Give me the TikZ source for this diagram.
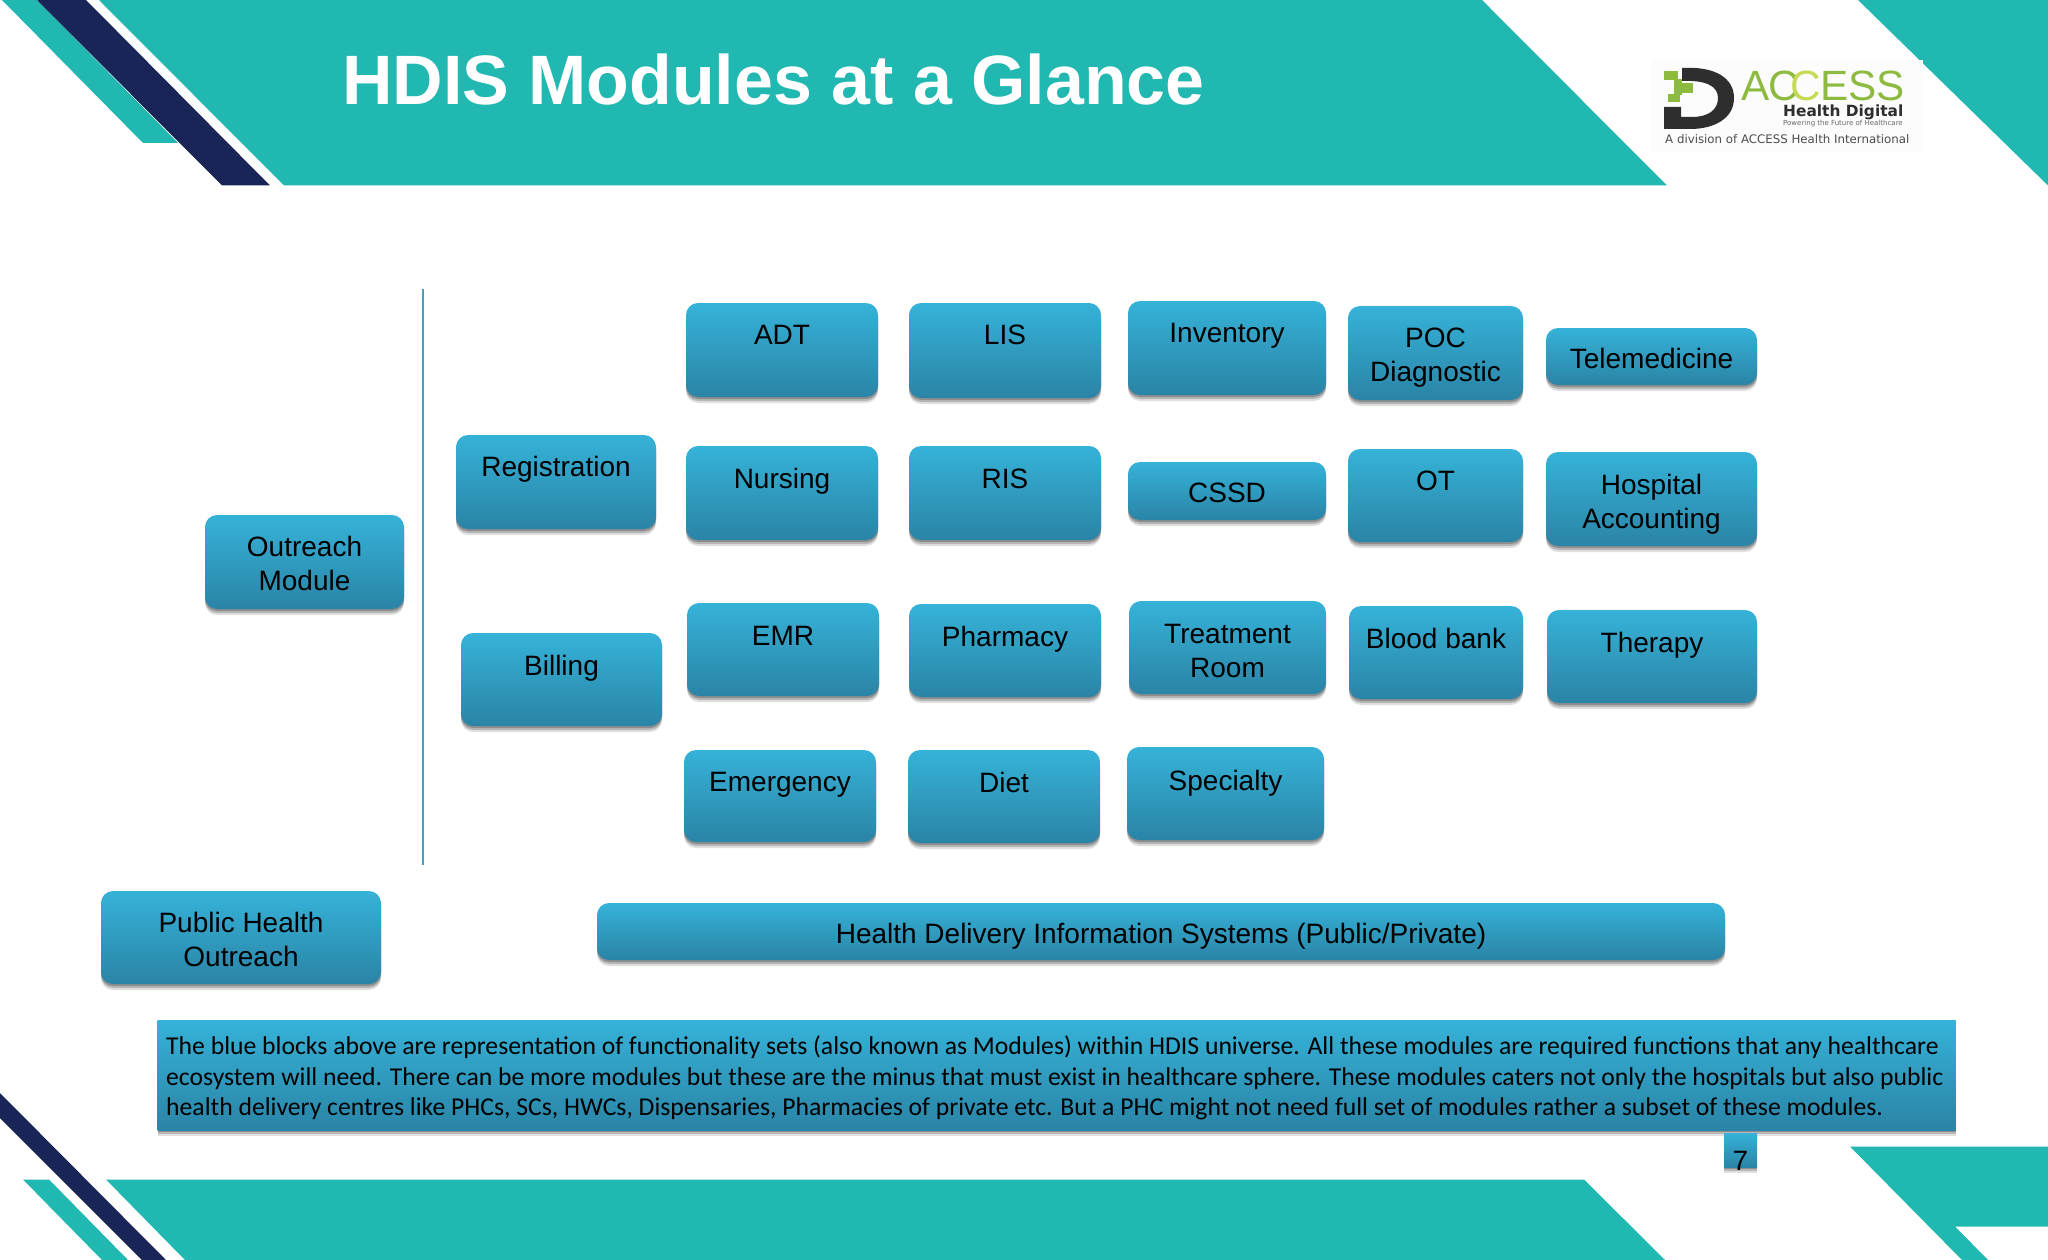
\documentclass[tikz,border=0pt]{standalone}
\usepackage{fontspec}
\setmainfont{Liberation Sans}
\newfontfamily\parafont{Carlito}
\newfontfamily\logofont{DejaVu Sans}
\usetikzlibrary{shadows}
\definecolor{teal1}{HTML}{22B8B2}
\definecolor{navy1}{HTML}{1A2557}
\definecolor{blueT}{HTML}{36B2D8}
\definecolor{blueB}{HTML}{2A84A6}
\definecolor{rule1}{HTML}{4A9FBE}
\definecolor{logoG}{HTML}{8DBB3F}
\definecolor{logoY}{HTML}{C6DA55}
\definecolor{logoD}{HTML}{2E2E2E}
\tikzset{
  x=1pt,y=-1pt,
  band/.style={fill=teal1,draw=none},
  stripe/.style={fill=navy1,draw=none},
  softshadow/.style={
    drop shadow={shadow xshift=0pt,shadow yshift=-6pt,opacity=.12,fill=black},
    drop shadow={shadow xshift=0pt,shadow yshift=-4pt,opacity=.18,fill=black},
    drop shadow={shadow xshift=0pt,shadow yshift=-2pt,opacity=.22,fill=black}},
  modbox/.style={rounded corners=12pt,top color=blueT,bottom color=blueB,draw=none,softshadow,inner sep=0pt,outer sep=0pt},
  flatbox/.style={top color=blueT,bottom color=blueB,draw=none,softshadow,inner sep=0pt,outer sep=0pt},
  modtext/.style={font=\fontsize{28}{34}\selectfont,align=center,text=black,inner sep=0pt},
  logotext/.style={inner sep=0pt,anchor=west},
}
% name, x1, y1, x2, y2, text centre y, text
\newcommand{\modul}[7]{%
  \node[modbox,minimum width={#4-#2},minimum height={#5-#3}] (#1) at ({(#2+#4)/2},{(#3+#5)/2}) {};
  \node[modtext] (#1-t) at ({(#2+#4)/2},#6) {#7};
}
\begin{document}
\begin{tikzpicture}
\useasboundingbox (0,0) rectangle (2048,1260);
\fill[white] (0,0) rectangle (2048,1260);
% top bands
\fill[band] (2,0) -- (143,143) -- (178,143) -- (37,0) -- cycle;
\fill[stripe] (37,0) -- (222,185.5) -- (270,185.5) -- (86,0) -- cycle;
\fill[band] (99,0) -- (284,185.5) -- (1667,185.5) -- (1482,0) -- cycle;
\fill[band] (1858,0) -- (2048,185.5) -- (2048,0) -- cycle;
% bottom bands
\fill[band] (106,1179.5) -- (185,1260) -- (1665,1260) -- (1584,1179.5) -- cycle;
\fill[stripe] (0,1093) -- (166,1260) -- (142,1260) -- (0,1118) -- cycle;
\fill[band] (23,1179.5) -- (49,1179.5) -- (128,1260) -- (102,1260) -- cycle;
\fill[band] (1850,1146.5) -- (2048,1146.5) -- (2048,1226.5) -- (1955,1226.5) -- (1988,1260) -- (1962,1260) -- cycle;
% title
\node[anchor=west,inner sep=0pt,text=white,font=\fontsize{69.9}{80}\selectfont\bfseries] (title) at (342,80) {HDIS Modules at a Glance};
% divider
\coordinate (divtop) at (422.5,289);
\coordinate (divbot) at (422.5,865);
\draw[rule1,line width=2pt] (divtop) -- (divbot);
% modules
\modul{adt}{686}{303}{878}{397}{335}{ADT}
\modul{lis}{909}{303}{1101}{398}{335}{LIS}
\modul{inv}{1128}{301}{1326}{395}{336}{Inventory}
\modul{poc}{1348}{306}{1523}{400}{358}{POC\\Diagnostic}
\modul{tele}{1546}{328}{1757}{385}{358}{Telemedicine}
\modul{reg}{456}{435}{656}{529}{469}{Registration}
\modul{nur}{686}{446}{878}{540}{481}{Nursing}
\modul{ris}{909}{446}{1101}{540}{479}{RIS}
\modul{cssd}{1128}{462}{1326}{520}{493}{CSSD}
\modul{ot}{1348}{449}{1523}{542}{481}{OT}
\modul{acc}{1546}{452}{1757}{546}{504}{Hospital\\Accounting}
\modul{out}{205}{515}{404}{609}{563}{Outreach\\Module}
\modul{bil}{461}{633}{662}{726}{668}{Billing}
\modul{emr}{687}{603}{879}{696}{636}{EMR}
\modul{pha}{909}{604}{1101}{697}{639}{Pharmacy}
\modul{tre}{1129}{601}{1326}{694}{650.5}{Treatment\\Room}
\modul{blo}{1349}{606}{1523}{699}{638}{Blood bank}
\modul{the}{1547}{610}{1757}{703}{645}{Therapy}
\modul{eme}{684}{750}{876}{842}{785}{Emergency}
\modul{die}{908}{750}{1100}{843}{782}{Diet}
\modul{spe}{1127}{747}{1324}{840}{783}{Specialty}
\modul{pub}{101}{891}{381}{984}{939}{Public Health\\Outreach}
\modul{hdis}{597}{903}{1725}{960}{936}{Health Delivery Information Systems (Public/Private)}
% paragraph
\node[flatbox,minimum width=1798,minimum height=110] (para) at (1056.5,1075) {};
\node[anchor=west,inner sep=0pt,text=black,font=\parafont\fontsize{25.68}{30.6}\selectfont,align=left] (para-t) at (166,1078) {The blue blocks above are representation of functionality sets (also known as Modules) within HDIS universe. All these modules are required functions that any healthcare\\ecosystem will need. There can be more modules but these are the minus that must exist in healthcare sphere. These modules caters not only the hospitals but also public\\health delivery centres like PHCs, SCs, HWCs, Dispensaries, Pharmacies of private etc. But a PHC might not need full set of modules rather a subset of these modules.};
% page number
\node[flatbox,minimum width=33,minimum height=34] (num) at (1740.5,1150) {};
\node[inner sep=0pt,font=\fontsize{28}{34}\selectfont,text=black] (num-t) at (1740.5,1161) {7};
% logo
\fill[black!1] (1650,60) rectangle (1923,152);
\fill[logoD] (1682,68) .. controls (1715,66) and (1734,78) .. (1734,98)
  .. controls (1734,118) and (1715,129) .. (1690,129) -- (1664,129) -- (1664,107) -- (1681,107) -- (1681,117)
  -- (1692,117) .. controls (1708,117) and (1718,110) .. (1718,98)
  .. controls (1718,86) and (1706,80) .. (1682,81) -- cycle;
\fill[logoG] (1664,71) rectangle (1678,80);
\fill[logoG] (1680,83) rectangle (1693,93);
\fill[logoG] (1668,94) rectangle (1680,102);
\fill[logoG] (1674,79) rectangle (1682,95);
\node[logotext,text=logoG,font=\fontsize{42.3}{42}\selectfont] (logo-a) at (1741,86)
  {A\kern-1pt C\kern-8pt\textcolor{logoY}{C}\kern-1pt ESS};
\node[logotext,text=logoD,font=\logofont\bfseries\fontsize{15.4}{17}\selectfont] (logo-h) at (1783,112.5) {Health Digital};
\node[logotext,text=black!60,font=\logofont\fontsize{7}{8}\selectfont] (logo-p) at (1783,123.5) {Powering the Future of Healthcare};
\node[logotext,text=black!70,font=\logofont\fontsize{11.8}{14}\selectfont] (logo-d) at (1665,139) {A division of ACCESS Health International};
\end{tikzpicture}
\end{document}
